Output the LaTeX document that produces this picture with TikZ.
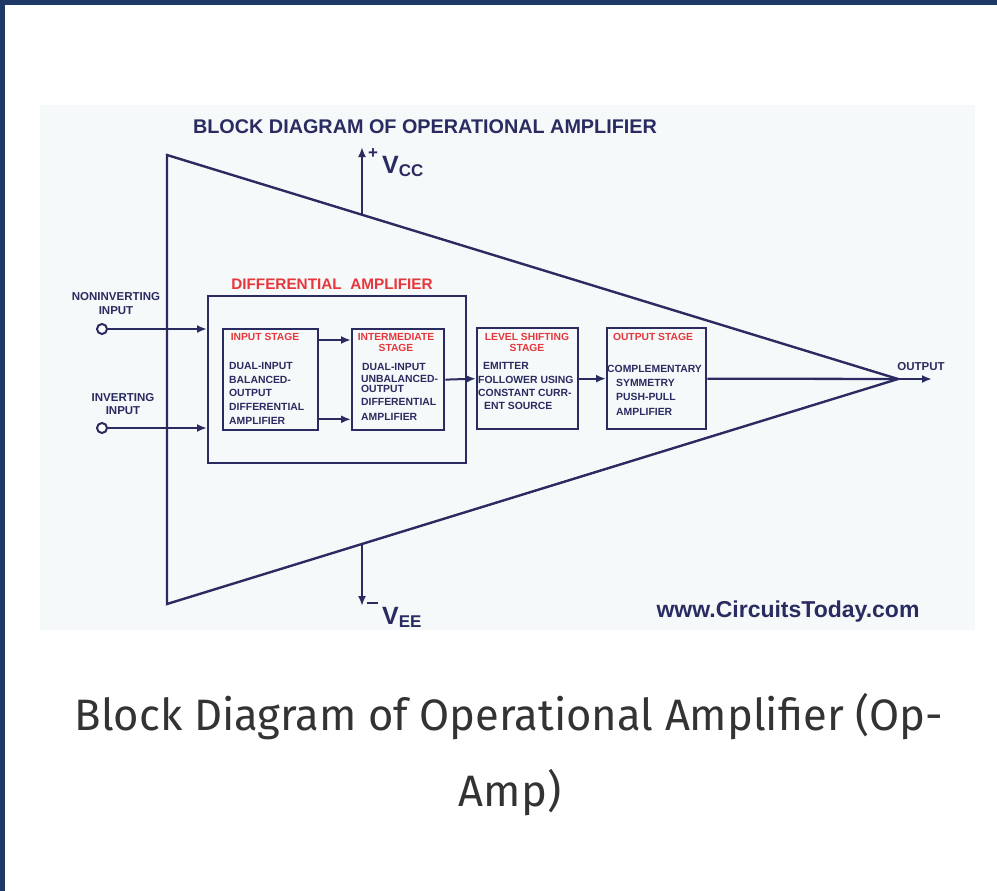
\documentclass[tikz,border=0pt]{standalone}
\usepackage{fontspec}
\setmainfont{Liberation Sans}
\newfontfamily\capfont{Fira Sans}
\usetikzlibrary{arrows.meta}
\definecolor{navy}{HTML}{2A2B60}
\definecolor{framec}{HTML}{1F3966}
\definecolor{redt}{HTML}{E5373C}
\definecolor{bgc}{HTML}{F6F9F9}
\definecolor{capc}{HTML}{333333}
\begin{document}
\begin{tikzpicture}[x=1pt,y=-1pt,
  line width=2.3pt, draw=navy,
  arr/.style={-{Latex[length=10pt,width=8pt]}, navy, line width=2pt},
  blk/.style={draw=navy, line width=2.3pt, anchor=north west, inner sep=0pt},
  body/.style={font=\bfseries\fontsize{10.4}{11}\selectfont, text=navy, inner sep=0pt, anchor=west},
  hdr/.style={font=\bfseries\fontsize{10.3}{11}\selectfont, text=redt, inner sep=0pt},
  lbl/.style={font=\bfseries\fontsize{11.5}{12}\selectfont, text=navy, inner sep=0pt},
  term/.style={circle, draw=navy, fill=white, line width=2pt, minimum size=10pt, inner sep=0pt}]
\useasboundingbox (0,0) rectangle (997,891);
\fill[white] (0,0) rectangle (997,891);
\fill[framec] (0,0) rectangle (997,5);
\fill[framec] (0,0) rectangle (5,891);
\fill[bgc] (40,105) rectangle (975,630);

% title
\node[font=\bfseries\fontsize{19.8}{20}\selectfont, text=navy, inner sep=0pt] (title) at (425,127) {BLOCK DIAGRAM OF OPERATIONAL AMPLIFIER};

% triangle
\coordinate (tl) at (167,155);
\coordinate (bl) at (167,604);
\coordinate (apex) at (898,379);
\draw[line width=2.4pt, line join=miter] (tl) -- (apex) -- (bl) -- cycle;

% supply rails
\coordinate (vccb) at (362,215);
\coordinate (vcct) at (362,147);
\coordinate (veeb) at (362,545);
\coordinate (veet) at (362,606);
\draw[arr] (vccb) -- (vcct);
\draw[arr] (veeb) -- (veet);
\node[font=\bfseries\fontsize{17}{17}\selectfont, text=navy, inner sep=0pt] (plus) at (373,154) {+};
\node[text=navy, inner sep=0pt, anchor=base west] (vcc) at (381,173) {\bfseries{\fontsize{25}{25}\selectfont V}{\fontsize{17}{17}\selectfont\raisebox{-3pt}{CC}}};
\draw[navy, line width=1.6pt] (367,603) -- (378,603);
\node[text=navy, inner sep=0pt, anchor=base west] (vee) at (381,624) {\bfseries{\fontsize{25}{25}\selectfont V}{\fontsize{17}{17}\selectfont\raisebox{-3pt}{EE}}};

% differential amplifier outer box
\node[blk, minimum width=258pt, minimum height=167pt] (dif) at (207,295) {};
\node[font=\bfseries\fontsize{15.3}{15}\selectfont, text=redt, inner sep=0pt] (diflbl) at (332,284) {DIFFERENTIAL\ \ AMPLIFIER};

% stage boxes
\node[blk, minimum width=95pt, minimum height=101pt] (in1) at (222,328) {};
\node[blk, minimum width=92pt, minimum height=101pt] (inter) at (351,328) {};
\node[blk, minimum width=101pt, minimum height=101pt] (lev) at (476,327) {};
\node[blk, minimum width=99pt, minimum height=101pt] (outs) at (606,327) {};

% input stage text
\node[hdr] (h1) at (265,337) {INPUT STAGE};
\node[body] (t11) at (228,366) {DUAL-INPUT};
\node[body] (t12) at (228,380) {BALANCED-};
\node[body] (t13) at (228,393) {OUTPUT};
\node[body] (t14) at (228,407) {DIFFERENTIAL};
\node[body] (t15) at (228,421) {AMPLIFIER};

% intermediate stage text
\node[hdr] (h2a) at (396,337) {INTERMEDIATE};
\node[hdr] (h2b) at (396,348) {STAGE};
\node[body] (t21) at (361,367) {DUAL-INPUT};
\node[body] (t22) at (360,379) {UNBALANCED-};
\node[body] (t23) at (360,389) {OUTPUT};
\node[body] (t24) at (360,402) {DIFFERENTIAL};
\node[body] (t25) at (360,417) {AMPLIFIER};

% level shifting text
\node[hdr] (h3a) at (527,337) {LEVEL SHIFTING};
\node[hdr] (h3b) at (527,348) {STAGE};
\node[body] (t31) at (482,366) {EMITTER};
\node[body] (t32) at (477,380) {FOLLOWER USING};
\node[body] (t33) at (477,393) {CONSTANT CURR-};
\node[body] (t34) at (483,406) {ENT SOURCE};

% output stage text
\node[hdr] (h4) at (653,337) {OUTPUT STAGE};
\node[body] (t41) at (606,369) {COMPLEMENTARY};
\node[body] (t42) at (615,383) {SYMMETRY};
\node[body] (t43) at (615,397) {PUSH-PULL};
\node[body] (t44) at (615,412) {AMPLIFIER};

% inputs
\node[lbl] (nil1) at (116,297) {NONINVERTING};
\node[lbl] (nil2) at (116,311) {INPUT};
\node[lbl] (inl1) at (123,398) {INVERTING};
\node[lbl] (inl2) at (123,411) {INPUT};
\node[term] (nin) at (102,329) {};
\node[term] (inv) at (102,428) {};
\draw[arr] (nin.east) -- (nin -| dif.west);
\draw[arr] (inv.east) -- (inv -| dif.west);

% internal connections
\draw[arr] ([yshift=-12pt]in1.north east) -- ([yshift=-12pt]inter.north west);
\draw[arr] ([yshift=12pt]in1.south east) -- ([yshift=12pt]inter.south west);
\draw[arr] (inter.east) -- (lev.west);
\draw[arr] (lev.east) -- (outs.west);
\draw[navy, line width=2.3pt] (outs.east) -- (apex);
\coordinate (outend) at (932,379);
\draw[arr] (apex) -- (outend);
\node[lbl] (outlbl) at (921,367) {OUTPUT};

% website
\node[font=\bfseries\fontsize{23}{23}\selectfont, text=navy, inner sep=0pt] (web) at (788,612) {www.CircuitsToday.com};

% caption
\node[text=capc, inner sep=0pt] (cap1) at (509,717) {\scalebox{0.99}[1]{\capfont\fontsize{44}{48}\selectfont Block Diagram of Operational Amplifier (Op-}};
\node[text=capc, inner sep=0pt] (cap2) at (510,793) {\scalebox{0.99}[1]{\capfont\fontsize{44}{48}\selectfont Amp)}};
\end{tikzpicture}
\end{document}
